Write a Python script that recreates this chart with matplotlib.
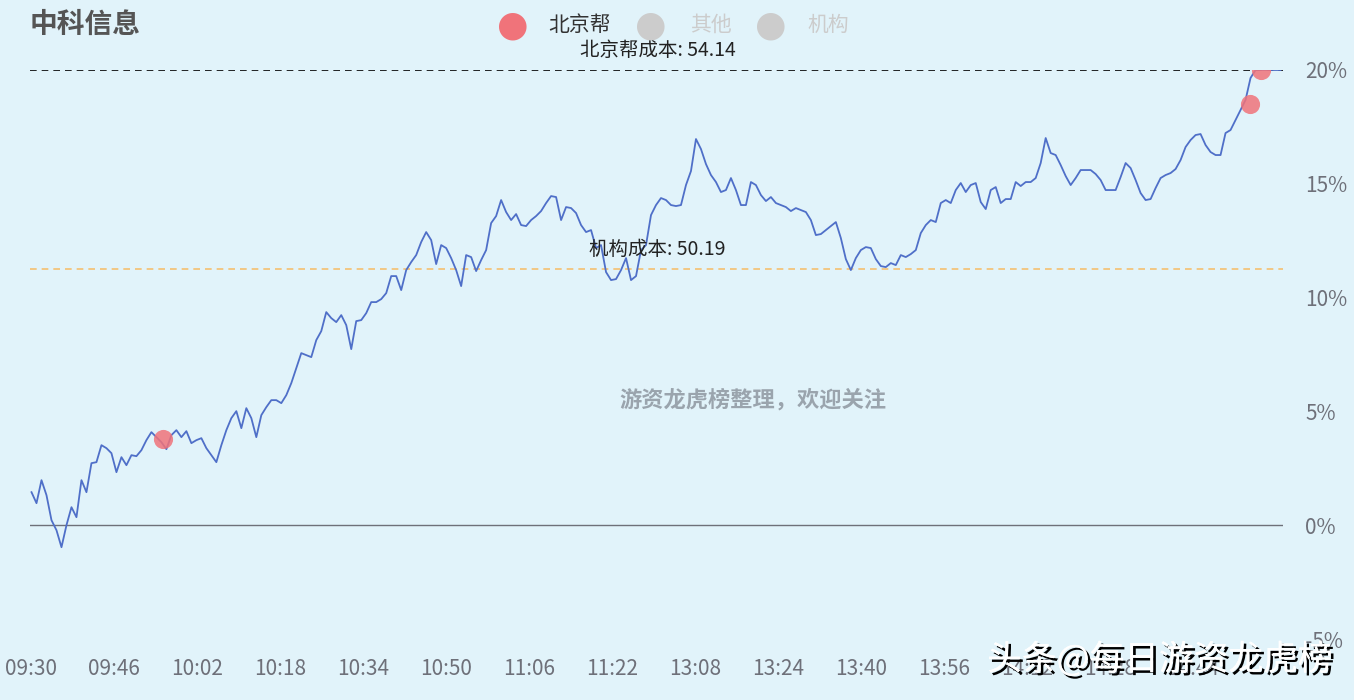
import matplotlib
matplotlib.use("Agg")
import matplotlib.pyplot as plt
import matplotlib.patheffects as pe
import numpy as np

plt.rcParams['font.family'] = ['Noto Sans CJK SC', 'DejaVu Sans']

py = [492,503,480,495,520,530,547,525,507,517,480,492,463,462,445,448,453,472,457,465,455,456,450,440,432,437,442,449,435,430,
      437,431,443,440,438,448,455,462,445,430,418,411,428,408,418,437,415,407,400,400,403,395,383,368,353,355,357,340,331,312,
      318,322,315,325,349,321,320,313,302,302,299,293,276,276,290,270,262,255,242,232,240,264,245,248,258,270,286,255,257,271,
      260,250,223,216,200,212,220,214,225,226,220,216,211,203,196,197,220,207,208,213,225,232,230,248,245,272,280,279,270,258,
      280,276,250,245,215,205,198,200,205,206,205,185,171,139,149,164,175,182,192,190,178,190,205,205,182,185,195,201,197,203,
      205,207,211,208,210,212,220,235,234,230,226,222,238,259,270,258,250,247,248,259,266,267,263,265,255,257,254,250,233,225,
      220,222,203,200,203,190,183,192,185,183,202,209,190,187,203,199,199,182,186,182,182,178,163,138,153,155,165,176,185,178,
      170,170,170,174,180,190,190,190,177,163,168,180,193,200,199,188,178,175,173,169,160,147,140,135,134,145,152,155,155,133,
      130,120,110,100,78,70,70,70,70,70,70]
pct = [(525 - v) / 22.75 for v in py]
x = np.arange(len(pct))

tick_labels = ["09:30","09:46","10:02","10:18","10:34","10:50","11:06","11:22","13:08","13:24","13:40","13:56","14:12","14:28","14:44"]
mark_idx = [26.4, 243.8, 246]
mark_val = [3.78, 18.5, 20.0]
bjb_cost_pct = 20.0
jg_cost_pct = 11.24

bg = '#e1f3fa'
fig = plt.figure(figsize=(13.54, 7.0), dpi=100, facecolor=bg)
ax = fig.add_axes([30/1354, 1-639/700, (1283-30)/1354, (639-70)/700], facecolor=bg)
ax.plot(x, pct, color='#4f6fc8', lw=1.3, zorder=3)
ax.scatter(mark_idx, mark_val, s=190, color='#f0737a', alpha=0.85, zorder=4, lw=0)
ax.axhline(0, color='#6e7079', lw=1)
ax.axhline(bjb_cost_pct, color='black', lw=1.2, ls=(0, (4, 3)))
ax.axhline(jg_cost_pct, color='#f5c070', lw=1.2, ls=(0, (4, 3)))
ax.text(125.3, bjb_cost_pct + 0.4, '北京帮成本: 54.14', fontsize=14, ha='center', va='bottom', color='#222')
ax.text(125.3, jg_cost_pct + 0.4, '机构成本: 50.19', fontsize=14, ha='center', va='bottom', color='#222')
ax.text(0.577, 0.42, '游资龙虎榜整理，欢迎关注', transform=ax.transAxes, fontsize=16, fontweight='bold',
        color='#9aa4ad', ha='center', va='center')

ax.set_xlim(-0.3, len(pct) - 0.5)
ax.set_ylim(-5, 20)
ax.set_yticks([-5, 0, 5, 10, 15, 20])
ax.set_yticklabels(['-5%', '0%', '5%', '10%', '15%', '20%'])
ax.yaxis.tick_right()
ax.set_xticks([i * 16.6 for i in range(len(tick_labels))])
ax.set_xticklabels(tick_labels)
ax.tick_params(axis='both', length=0, labelsize=15, colors='#6e7079')
ax.tick_params(axis='x', pad=14)
ax.tick_params(axis='y', pad=16)
for s in ax.spines.values():
    s.set_visible(False)

fig.text(30/1354, 1-25/700, '中科信息', fontsize=20, fontweight='bold', color='#555', va='center')
for cx, tx, lab, col, tc in [(513, 548, '北京帮', '#f0737a', '#333'), (651, 690, '其他', '#cccccc', '#cccccc'), (771, 807, '机构', '#cccccc', '#cccccc')]:
    fig.text(cx/1354, 1-25/700, '●', fontsize=26, color=col, ha='center', va='center', family='DejaVu Sans')
    fig.text(tx/1354, 1-25/700, lab, fontsize=15, color=tc, ha='left', va='center')

fig.text(1160/1354, 1-660/700, '头条@每日游资龙虎榜', fontsize=25, color='white', ha='center', va='center',
         path_effects=[pe.withSimplePatchShadow(offset=(2, -2), shadow_rgbFace='black', alpha=1), pe.Normal()])
fig.savefig('out.png', dpi=100, facecolor=bg)
